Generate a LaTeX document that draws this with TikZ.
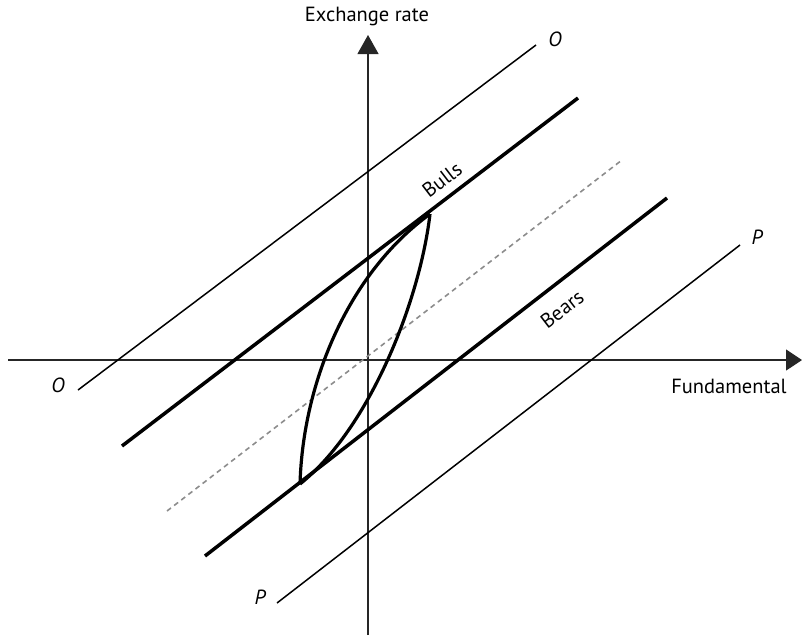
\documentclass[tikz,border=0pt]{standalone}
\usepackage{fontspec}
\setmainfont{PT Sans}
\usetikzlibrary{arrows.meta}
\begin{document}
\begin{tikzpicture}[x=1pt,y=-1pt,
  axis/.style={line width=1.2pt, draw=black!85},
  thinline/.style={line width=1.5pt},
  thickline/.style={line width=3.5pt},
  midline/.style={line width=1.6pt, draw=black!45, dash pattern=on 5pt off 4pt},
  loopcurve/.style={line width=3.2pt, line join=round},
  lbl/.style={font=\fontsize{20.5}{24}\selectfont, inner sep=0pt},
  ilbl/.style={font=\fontsize{20.5}{24}\selectfont\itshape, inner sep=0pt}]
\useasboundingbox (0,0) rectangle (802,641);
% axes
\coordinate (yb) at (368,635);
\coordinate (yt) at (368,35);
\coordinate (xl) at (8,360);
\coordinate (xr) at (802,360);
\draw[axis, -{Triangle[width=21pt,length=19pt]}] (yb) -- (yt);
\draw[axis, -{Triangle[width=21pt,length=16pt]}] (xl) -- (xr);
\node[lbl] (ylab) at (367,16) {Exchange rate};
\node[lbl] (xlab) at (729,386) {Fundamental};
% lines
\coordinate (o1) at (78,390);  \coordinate (o2) at (536,45);
\coordinate (bu1) at (122,446); \coordinate (bu2) at (578,98);
\coordinate (d1) at (167,511);  \coordinate (d2) at (622,160);
\coordinate (be1) at (205,556); \coordinate (be2) at (667,198);
\coordinate (p1) at (277,603);  \coordinate (p2) at (740,245);
\draw[thinline] (o1) -- (o2);
\draw[thickline] (bu1) -- (bu2);
\draw[midline] (d1) -- (d2);
\draw[thickline] (be1) -- (be2);
\draw[thinline] (p1) -- (p2);
\node[ilbl] (olow) at (58,385) {O};
\node[ilbl] (ohigh) at (555,39) {O};
\node[ilbl] (plow) at (260,597) {P};
\node[ilbl] (phigh) at (757,237) {P};
\node[lbl, rotate=37.5] (bulls) at (442,180) {Bulls};
\node[lbl, rotate=37.5] (bears) at (562,309) {Bears};
% hysteresis loop
\coordinate (A) at (300,484);
\coordinate (B) at (430,214);
\draw[loopcurve] (A) .. controls (303,380) and (350,272) .. (B);
\draw[loopcurve] (B) .. controls (420,300) and (370,428) .. (A);
\end{tikzpicture}
\end{document}
